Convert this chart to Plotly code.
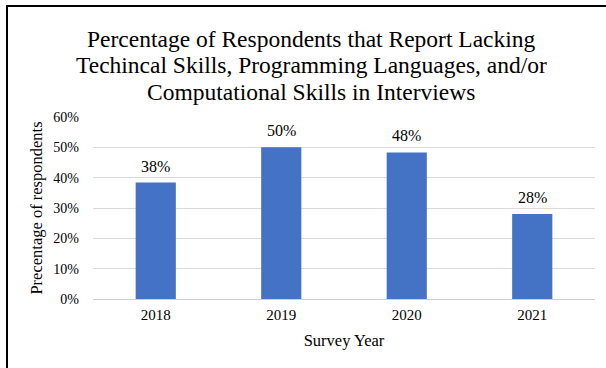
import plotly.graph_objects as go

years = ["2018", "2019", "2020", "2021"]
pct_values = [38.4, 50.0, 48.3, 28.0]
y_ticks = [0, 10, 20, 30, 40, 50, 60]
y_tick_labels = [f"{v}%" for v in y_ticks]
title_lines = [
    "Percentage of Respondents that Report Lacking",
    "Techincal Skills, Programming Languages, and/or",
    "Computational Skills in Interviews",
]

W, H = 606, 368
L, R, T, B = 93, 11, 117, 69
pw, ph = W - L - R, H - T - B

def px_x(x):
    return (x - L) / pw

def px_y(y):
    return (H - B - y) / ph

FONT = "Liberation Serif, Times New Roman, serif"

fig = go.Figure(
    go.Bar(
        x=years,
        y=pct_values,
        marker=dict(color="#4472C4", line=dict(width=0)),
        width=0.32,
    )
)

annotations = []
for i, v in enumerate(pct_values):
    annotations.append(dict(
        x=i, y=v, xref="x", yref="y", text=f"{v:.0f}%", showarrow=False,
        yanchor="bottom", yshift=6, font=dict(family=FONT, size=16, color="#000"),
    ))
for i, line in enumerate(title_lines):
    annotations.append(dict(
        x=px_x(311), y=px_y(39 + 26.5 * i), xref="paper", yref="paper",
        text=line, showarrow=False, xanchor="center", yanchor="middle",
        font=dict(family=FONT, size=23.5, color="#000"),
    ))

fig.update_layout(
    width=W,
    height=H,
    margin=dict(l=L, r=R, t=T, b=B, pad=0),
    paper_bgcolor="white",
    plot_bgcolor="white",
    showlegend=False,
    font=dict(family=FONT, color="#000"),
    annotations=annotations,
    xaxis=dict(
        type="category",
        showgrid=False,
        showline=True,
        linecolor="#D0D0D0",
        linewidth=1,
        ticks="",
        ticklabelstandoff=2,
        tickfont=dict(family=FONT, size=15, color="#000"),
        title=dict(text="Survey Year", font=dict(family=FONT, size=16.5, color="#000"), standoff=12),
    ),
    yaxis=dict(
        range=[0, 60],
        tickvals=y_ticks,
        ticktext=y_tick_labels,
        showgrid=True,
        gridcolor="#D9D9D9",
        gridwidth=1,
        zeroline=False,
        showline=False,
        ticks="",
        ticklabelstandoff=13,
        tickfont=dict(family=FONT, size=14, color="#000"),
        title=dict(text="Precentage of respondents", font=dict(family=FONT, size=16.5, color="#000"), standoff=6),
    ),
    shapes=[
        dict(type="line", xref="paper", yref="paper",
             x0=px_x(7), x1=px_x(7), y0=px_y(6), y1=px_y(H + 5),
             line=dict(color="#000", width=2)),
        dict(type="line", xref="paper", yref="paper",
             x0=px_x(6), x1=px_x(W + 5), y0=px_y(6), y1=px_y(6),
             line=dict(color="#000", width=2)),
    ],
)

fig.write_html("out.html")
